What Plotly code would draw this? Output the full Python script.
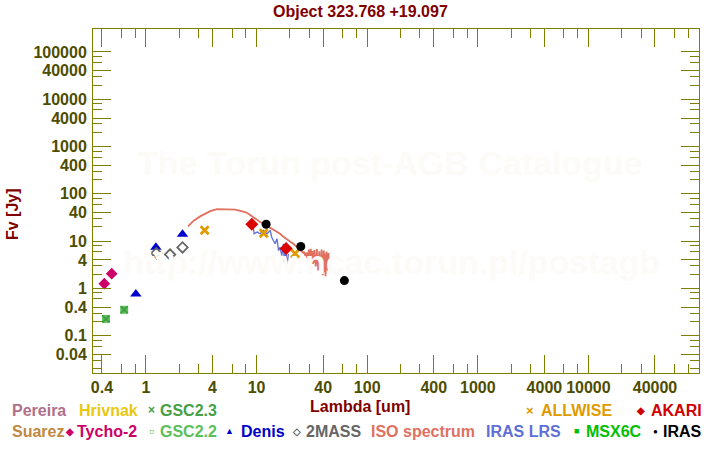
import plotly.graph_objects as go

# ---------------- data ----------------
tycho_x = [0.42, 0.49]
tycho_y = [1.26, 2.05]

gsc_x = [0.435, 0.635]
gsc_y = [0.226, 0.352]

denis_x = [0.81, 1.23, 2.14]
denis_y = [0.76, 7.45, 13.9]

twomass_x = [1.24, 1.65, 2.14]
twomass_y = [5.55, 5.2, 7.35]

allwise_x = [3.39, 11.6, 22.3]
allwise_y = [16.9, 14.6, 5.47]

akari_x = [9.06, 18.5]
akari_y = [22.7, 7.0]

iras_x = [12.2, 25.1, 62.2]
iras_y = [22.7, 7.7, 1.46]

iso_x = [2.40, 2.7, 3.09, 3.45, 3.81, 4.38, 4.9, 5.39, 6.41, 7.2, 7.88, 8.5, 9.07, 9.9, 10.8,
         12.0, 13.3, 14.8, 16.3, 17.5, 18.8, 20.2, 21.5, 23.5, 25.6, 26.5, 27.0, 27.6, 28.0,
         28.5, 28.9, 29.3, 29.7, 30.0, 30.3, 30.6, 30.9, 31.2, 31.5, 31.8, 32.1, 32.4, 32.7,
         33.0, 33.3, 33.6, 33.9, 34.2, 34.5, 34.8, 35.1, 35.4, 35.7, 36.0, 36.3, 36.6, 36.9,
         37.2, 37.5, 37.8, 38.1, 38.4, 38.7, 39.0, 39.3, 39.6, 39.9, 40.2, 40.5, 40.8, 41.1,
         41.4, 41.7, 42.0, 42.3, 42.6, 42.9, 43.2, 43.5, 43.8, 44.1, 44.4, 44.7, 45.0, 45.3,
         45.6]
iso_y = [20.4, 27.0, 33.3, 38.5, 43.1, 47.5, 47.8, 46.9, 46.2, 44.0, 41.1, 37.5, 33.3, 28.5, 25.2,
         22.0, 19.2, 16.5, 14.3, 12.4, 10.8, 9.7, 8.77, 7.3, 6.31, 5.6, 5.9, 4.9, 5.6,
         4.5, 5.8, 4.2, 6.6, 3.9, 5.8, 4.4, 6.9, 3.6, 5.4, 4.0, 6.2, 3.3, 5.0, 4.1,
         6.5, 3.5, 5.2, 2.9, 5.6, 3.8, 6.8, 3.2, 4.9, 2.4, 5.3, 3.0, 6.1, 2.7, 4.6, 2.2,
         5.7, 3.4, 6.6, 2.5, 5.0, 1.9, 4.4, 2.8, 6.3, 3.1, 5.5, 2.2, 4.8, 1.8, 5.9, 2.6,
         6.0, 3.3, 5.1, 2.4, 4.3, 2.9, 5.6, 3.4, 4.2, 3.0]

lrs_x = [8.17, 9.38, 9.5, 10.1, 10.8, 11.5, 12.4, 13.3, 13.7, 14.2, 14.7, 15.3, 15.8, 16.3,
         16.9, 17.5, 17.8, 18.4, 18.8, 19.4]
lrs_y = [23.3, 18.2, 14.3, 15.5, 14.3, 16.8, 14.3, 16.8, 12.1, 10.3, 8.8, 11.2, 6.3, 7.4,
         4.9, 8.8, 3.6, 6.9, 3.03, 5.4]

x_tickvals = [0.4, 1, 4, 10, 40, 100, 400, 1000, 4000, 10000, 40000]
x_ticktext = ["0.4", "1", "4", "10", "40", "100", "400", "1000", "4000", "10000", "40000"]
x_minor = [0.6, 0.8, 2, 3, 6, 8, 20, 30, 60, 80, 200, 300, 600, 800, 2000, 3000, 6000, 8000,
           20000, 30000, 60000, 80000]

y_tickvals = [0.04, 0.1, 0.4, 1, 4, 10, 40, 100, 400, 1000, 4000, 10000, 40000, 100000]
y_ticktext = ["0.04", "0.1", "0.4", "1", "4", "10", "40", "100", "400", "1000", "4000",
              "10000", "40000", "100000"]
y_minor = [0.02, 0.03, 0.06, 0.08, 0.2, 0.3, 0.6, 0.8, 2, 3, 6, 8, 20, 30, 60, 80, 200, 300,
           600, 800, 2000, 3000, 6000, 8000, 20000, 30000, 60000, 80000]

# ---------------- styling ----------------
FONT = "Liberation Sans, Arial, sans-serif"
AXC = "#808000"
TICKC = "#4d4d00"
TITLEC = "#800000"

W, H = 720, 450
L, R, T, B = 93, 699, 29, 373


def px(x):
    return (x - L) / (R - L)


def py(y):
    return (B - y) / (B - T)


fig = go.Figure()

fig.add_trace(go.Scatter(x=iso_x, y=iso_y, mode="lines",
                         line=dict(color="#e07060", width=1.8), hoverinfo="skip"))
fig.add_trace(go.Scatter(x=lrs_x, y=lrs_y, mode="lines",
                         line=dict(color="#5f6fd8", width=1.3), hoverinfo="skip"))
fig.add_trace(go.Scatter(x=tycho_x, y=tycho_y, mode="markers",
                         marker=dict(symbol="diamond", size=9, color="#cc0066")))
fig.add_trace(go.Scatter(x=gsc_x, y=gsc_y, mode="markers",
                         marker=dict(symbol="square", size=8, color="#5cbf5c")))
fig.add_trace(go.Scatter(x=gsc_x, y=gsc_y, mode="markers",
                         marker=dict(symbol="x-thin", size=7, color="#3c9a3c",
                                     line=dict(color="#3c9a3c", width=1.5))))
fig.add_trace(go.Scatter(x=denis_x, y=denis_y, mode="markers",
                         marker=dict(symbol="triangle-up", size=10, color="#0000cc")))
fig.add_trace(go.Scatter(x=twomass_x, y=twomass_y, mode="markers",
                         marker=dict(symbol="diamond-open", size=8, color="#666666",
                                     line=dict(width=1.8))))
fig.add_trace(go.Scatter(x=allwise_x, y=allwise_y, mode="markers",
                         marker=dict(symbol="x-thin", size=8, color="#e09a00",
                                     line=dict(color="#e09a00", width=2.8))))
fig.add_trace(go.Scatter(x=akari_x, y=akari_y, mode="markers",
                         marker=dict(symbol="diamond", size=10, color="#dd0000")))
fig.add_trace(go.Scatter(x=iras_x, y=iras_y, mode="markers",
                         marker=dict(symbol="circle", size=9, color="#000000")))

axis_common = dict(
    type="log", showgrid=False, zeroline=False, showline=True, linecolor=AXC, linewidth=1,
    mirror="ticks", ticks="inside", ticklen=18, tickwidth=1, tickcolor=AXC,
    tickfont=dict(family=FONT, size=16, color=TICKC, weight="bold"),
    tickmode="array",
)

fig.update_xaxes(**axis_common, range=[-0.479, 5.0], tickvals=x_tickvals, ticktext=x_ticktext,
                 minor=dict(tickmode="array", tickvals=x_minor, ticks="inside", ticklen=9,
                            tickcolor=AXC, tickwidth=1, showgrid=False),
                 ticklabelstandoff=0)
fig.update_yaxes(**axis_common, range=[-1.79, 5.486], tickvals=y_tickvals, ticktext=y_ticktext,
                 minor=dict(tickmode="array", tickvals=y_minor, ticks="inside", ticklen=9,
                            tickcolor=AXC, tickwidth=1, showgrid=False),
                 ticklabelstandoff=2)

ann = []


def text(x, y, s, color, size=16, anchor="left", angle=0):
    ann.append(dict(x=px(x), y=py(y), xref="paper", yref="paper", text=s, showarrow=False,
                    xanchor=anchor, yanchor="middle", textangle=angle,
                    font=dict(family=FONT, size=size, color=color, weight="bold")))


# watermarks
text(390, 163, "The Torun post-AGB Catalogue", "#fcfbf8", size=34, anchor="center")
text(391, 262, "http://www.ncac.torun.pl/postagb", "#fcfbf8", size=34, anchor="center")

# titles
text(360, 12, "Object 323.768 +19.097", TITLEC, anchor="center")
text(360, 406, "Lambda [um]", TITLEC, anchor="center")
text(12, 214, "Fv [Jy]", TITLEC, anchor="center", angle=-90)

# legend row 1
text(10, 410, "Pereira", "#b07088")
text(77, 410, "Hrivnak", "#e8c810")
text(151, 410, "×", "#46a046", size=12, anchor="center")
text(158, 410, "GSC2.3", "#46a046")
text(530, 410, "×", "#e09a00", size=13, anchor="center")
text(539, 410, "ALLWISE", "#e09a00")
text(640, 410, "◆", "#d00000", size=10, anchor="center")
text(649, 410, "AKARI", "#d00000")

# legend row 2
text(10, 431, "Suarez", "#c08840")
text(69, 431, "◆", "#cc0066", size=10, anchor="center")
text(75, 431, "Tycho-2", "#cc0066")
text(151, 431, "▫", "#5cbf5c", size=14, anchor="center")
text(158, 431, "GSC2.2", "#5cbf5c")
text(229, 431, "▲", "#0000c8", size=9, anchor="center")
text(239, 431, "Denis", "#0000c8")
text(296, 431, "◇", "#666666", size=10, anchor="center")
text(304, 431, "2MASS", "#666666")
text(369, 431, "ISO spectrum", "#e07060")
text(484, 431, "IRAS LRS", "#5f6fd8")
text(576, 431, "■", "#00c000", size=9, anchor="center")
text(584, 431, "MSX6C", "#00c000")
text(655, 431, "●", "#000000", size=8, anchor="center")
text(661, 431, "IRAS", "#000000")

fig.update_layout(
    width=W, height=H, showlegend=False,
    margin=dict(l=L, r=W - R, t=T, b=H - B, pad=0),
    paper_bgcolor="white", plot_bgcolor="white",
    annotations=ann,
)

fig.write_html("out.html")
